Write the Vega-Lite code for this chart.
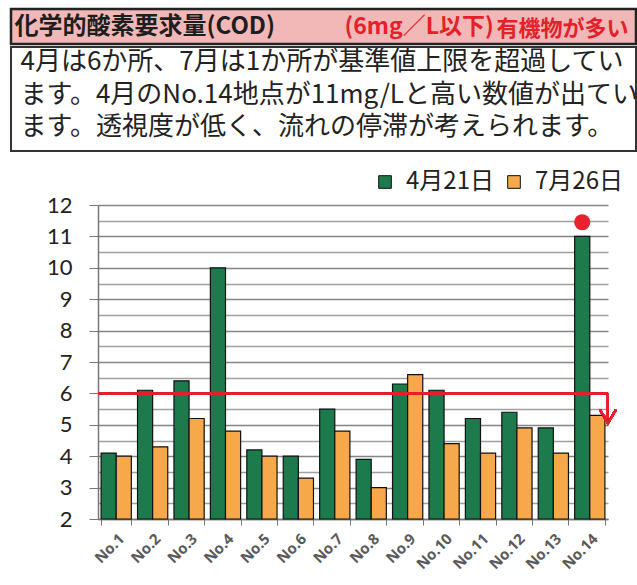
{
  "$schema": "https://vega.github.io/schema/vega-lite/v6.json",
  "background": "white",
  "padding": {"left": 9, "top": 7, "right": 0, "bottom": 0},
  "config": {"view": {"stroke": null}},
  "columns": 1,
  "spacing": 0,
  "resolve": {"legend": {"color": "independent"}, "scale": {"color": "independent"}},
  "concat": [
    {
      "width": 625,
      "height": 35,
      "view": {"fill": "#f2b8b8", "stroke": "#222222", "strokeWidth": 2.5},
      "data": {"values": [
        {"part": "title", "label": "化学的酸素要求量(COD)"},
        {"part": "limit", "label": "(6mg／L以下)"},
        {"part": "note", "label": "有機物が多い"}
      ]},
      "layer": [
        {
          "transform": [{"filter": "datum.part === 'title'"}],
          "mark": {"type": "text", "align": "left", "baseline": "middle", "dx": -309, "font": "Noto Sans CJK JP", "fontSize": 24, "fontWeight": "bold", "color": "#1e1e1e"},
          "encoding": {"text": {"field": "label"}}
        },
        {
          "transform": [{"filter": "datum.part === 'limit'"}],
          "mark": {"type": "text", "align": "left", "baseline": "middle", "dx": 21, "font": "Noto Sans CJK JP", "fontSize": 23, "fontWeight": "bold", "color": "#e3212b"},
          "encoding": {"text": {"field": "label"}}
        },
        {
          "transform": [{"filter": "datum.part === 'note'"}],
          "mark": {"type": "text", "align": "left", "baseline": "middle", "dx": 173, "dy": 2, "font": "Noto Sans CJK JP", "fontSize": 22, "fontWeight": "bold", "color": "#e3212b"},
          "encoding": {"text": {"field": "label"}}
        }
      ]
    },
    {
      "columns": 1,
      "spacing": 18,
      "resolve": {"legend": {"color": "independent"}, "scale": {"color": "independent"}},
      "concat": [
        {
          "width": 625,
          "height": 104,
          "view": {"fill": "white", "stroke": "#333333", "strokeWidth": 2},
          "data": {"values": [
            {"para": "4月は6か所、7月は1か所が基準値上限を超過してい\nます。4月のNo.14地点が11mg/Lと高い数値が出てい\nます。透視度が低く、流れの停滞が考えられます。"}
          ]},
          "mark": {"type": "text", "align": "left", "baseline": "middle", "dx": -303, "dy": -37, "lineBreak": "\n", "lineHeight": 32.5, "font": "Noto Sans CJK JP", "fontSize": 26, "color": "#222222"},
          "encoding": {"text": {"field": "para"}}
        },
        {
          "spacing": 0,
          "resolve": {"legend": {"color": "independent"}, "scale": {"color": "independent"}},
          "hconcat": [
            {
              "width": 1,
              "height": 1,
              "view": {"fill": "white", "stroke": null},
              "data": {"values": [{"t": ""}]},
              "mark": {"type": "text"},
              "encoding": {"text": {"field": "t"}}
            },
            {
              "width": 510,
              "height": 314,
              "data": {"values": [
                {"site": "No.1", "date": "4月21日", "value": 4.1},
                {"site": "No.2", "date": "4月21日", "value": 6.1},
                {"site": "No.3", "date": "4月21日", "value": 6.4},
                {"site": "No.4", "date": "4月21日", "value": 10.0},
                {"site": "No.5", "date": "4月21日", "value": 4.2},
                {"site": "No.6", "date": "4月21日", "value": 4.0},
                {"site": "No.7", "date": "4月21日", "value": 5.5},
                {"site": "No.8", "date": "4月21日", "value": 3.9},
                {"site": "No.9", "date": "4月21日", "value": 6.3},
                {"site": "No.10", "date": "4月21日", "value": 6.1},
                {"site": "No.11", "date": "4月21日", "value": 5.2},
                {"site": "No.12", "date": "4月21日", "value": 5.4},
                {"site": "No.13", "date": "4月21日", "value": 4.9},
                {"site": "No.14", "date": "4月21日", "value": 11.0},
                {"site": "No.1", "date": "7月26日", "value": 4.0},
                {"site": "No.2", "date": "7月26日", "value": 4.3},
                {"site": "No.3", "date": "7月26日", "value": 5.2},
                {"site": "No.4", "date": "7月26日", "value": 4.8},
                {"site": "No.5", "date": "7月26日", "value": 4.0},
                {"site": "No.6", "date": "7月26日", "value": 3.3},
                {"site": "No.7", "date": "7月26日", "value": 4.8},
                {"site": "No.8", "date": "7月26日", "value": 3.0},
                {"site": "No.9", "date": "7月26日", "value": 6.6},
                {"site": "No.10", "date": "7月26日", "value": 4.4},
                {"site": "No.11", "date": "7月26日", "value": 4.1},
                {"site": "No.12", "date": "7月26日", "value": 4.9},
                {"site": "No.13", "date": "7月26日", "value": 4.1},
                {"site": "No.14", "date": "7月26日", "value": 5.3}
              ]},
              "layer": [
                {
                  "mark": {"type": "bar", "stroke": "#111111", "strokeWidth": 1.2},
                  "encoding": {
                    "x": {
                      "field": "site", "type": "nominal", "sort": null,
                      "scale": {"domain": ["No.1","No.2","No.3","No.4","No.5","No.6","No.7","No.8","No.9","No.10","No.11","No.12","No.13","No.14"], "paddingInner": 0.17, "paddingOuter": 0.085},
                      "axis": {"title": null, "labelAngle": -45, "labelFontSize": 15, "labelFont": "Open Sans", "labelFontWeight": "bold", "labelColor": "#5a5a5a", "tickBand": "extent", "tickSize": 6, "tickColor": "#777777", "domainColor": "#777777", "domainWidth": 1.5, "labelPadding": 6, "grid": false}
                    },
                    "xOffset": {"field": "date", "type": "nominal", "sort": null, "scale": {"domain": ["4月21日", "7月26日"]}},
                    "y": {
                      "field": "value", "type": "quantitative",
                      "scale": {"domain": [2, 12], "nice": false, "zero": false},
                      "axis": {"title": null, "values": [2, 2.5, 3, 3.5, 4, 4.5, 5, 5.5, 6, 6.5, 7, 7.5, 8, 8.5, 9, 9.5, 10, 10.5, 11, 11.5, 12], "labelExpr": "datum.value % 1 ? '' : format(datum.value, 'd')", "labelOverlap": false, "labelFontSize": 22, "labelFont": "Lato", "labelColor": "#222222", "labelPadding": 17, "tickSize": 9, "tickColor": "#777777", "tickOpacity": {"condition": {"test": "datum.value % 1", "value": 0}, "value": 1}, "domainColor": "#777777", "domainWidth": 1.5, "grid": true, "gridColor": {"condition": {"test": "datum.value % 1", "value": "#a0a0a0"}, "value": "#858585"}, "gridWidth": 1.5, "gridOpacity": 1, "minExtent": 86}
                    },
                    "y2": {"datum": 2},
                    "color": {
                      "field": "date", "type": "nominal", "sort": null,
                      "scale": {"domain": ["4月21日", "7月26日"], "range": ["#1d7a4d", "#f7a84a"]},
                      "legend": {"title": null, "orient": "none", "legendX": 275, "legendY": -35, "direction": "horizontal", "symbolType": "square", "symbolSize": 160, "symbolStrokeColor": "#111111", "symbolStrokeWidth": 1, "symbolOpacity": 1, "labelFontSize": 24, "labelFont": "Noto Sans CJK JP", "labelColor": "#222222", "labelOffset": 9, "columnPadding": 8, "padding": 0}
                    }
                  }
                },
                {
                  "mark": {"type": "rule", "color": "#e3212b", "strokeWidth": 2},
                  "encoding": {
                    "y": {"datum": 6, "type": "quantitative", "axis": {"title": null, "values": [2, 2.5, 3, 3.5, 4, 4.5, 5, 5.5, 6, 6.5, 7, 7.5, 8, 8.5, 9, 9.5, 10, 10.5, 11, 11.5, 12], "labelExpr": "datum.value % 1 ? '' : format(datum.value, 'd')", "labelOverlap": false, "labelFontSize": 22, "labelFont": "Lato", "labelColor": "#222222", "labelPadding": 17, "tickSize": 9, "tickColor": "#777777", "tickOpacity": {"condition": {"test": "datum.value % 1", "value": 0}, "value": 1}, "domainColor": "#777777", "domainWidth": 1.5, "grid": true, "gridColor": {"condition": {"test": "datum.value % 1", "value": "#a0a0a0"}, "value": "#858585"}, "gridWidth": 1.5, "gridOpacity": 1, "minExtent": 86}}
                  }
                },
                {
                  "mark": {"type": "rule", "color": "#e3212b", "strokeWidth": 2, "xOffset": 3},
                  "encoding": {
                    "x": {"datum": "No.14", "type": "nominal", "bandPosition": 1, "axis": {"title": null, "labelAngle": -45, "labelFontSize": 15, "labelFont": "Open Sans", "labelFontWeight": "bold", "labelColor": "#5a5a5a", "tickBand": "extent", "tickSize": 6, "tickColor": "#777777", "domainColor": "#777777", "domainWidth": 1.5, "labelPadding": 6, "grid": false}},
                    "y": {"datum": 6, "type": "quantitative", "axis": {"title": null, "values": [2, 2.5, 3, 3.5, 4, 4.5, 5, 5.5, 6, 6.5, 7, 7.5, 8, 8.5, 9, 9.5, 10, 10.5, 11, 11.5, 12], "labelExpr": "datum.value % 1 ? '' : format(datum.value, 'd')", "labelOverlap": false, "labelFontSize": 22, "labelFont": "Lato", "labelColor": "#222222", "labelPadding": 17, "tickSize": 9, "tickColor": "#777777", "tickOpacity": {"condition": {"test": "datum.value % 1", "value": 0}, "value": 1}, "domainColor": "#777777", "domainWidth": 1.5, "grid": true, "gridColor": {"condition": {"test": "datum.value % 1", "value": "#a0a0a0"}, "value": "#858585"}, "gridWidth": 1.5, "gridOpacity": 1, "minExtent": 86}},
                    "y2": {"datum": 5.05}
                  }
                },
                {
                  "mark": {"type": "point", "shape": "M-1,-1.7L0,0L1,-1.7", "filled": false, "stroke": "#e3212b", "strokeWidth": 2, "size": 256, "opacity": 1, "xOffset": 3},
                  "encoding": {
                    "x": {"datum": "No.14", "type": "nominal", "bandPosition": 1, "axis": {"title": null, "labelAngle": -45, "labelFontSize": 15, "labelFont": "Open Sans", "labelFontWeight": "bold", "labelColor": "#5a5a5a", "tickBand": "extent", "tickSize": 6, "tickColor": "#777777", "domainColor": "#777777", "domainWidth": 1.5, "labelPadding": 6, "grid": false}},
                    "y": {"datum": 5.05, "type": "quantitative", "axis": {"title": null, "values": [2, 2.5, 3, 3.5, 4, 4.5, 5, 5.5, 6, 6.5, 7, 7.5, 8, 8.5, 9, 9.5, 10, 10.5, 11, 11.5, 12], "labelExpr": "datum.value % 1 ? '' : format(datum.value, 'd')", "labelOverlap": false, "labelFontSize": 22, "labelFont": "Lato", "labelColor": "#222222", "labelPadding": 17, "tickSize": 9, "tickColor": "#777777", "tickOpacity": {"condition": {"test": "datum.value % 1", "value": 0}, "value": 1}, "domainColor": "#777777", "domainWidth": 1.5, "grid": true, "gridColor": {"condition": {"test": "datum.value % 1", "value": "#a0a0a0"}, "value": "#858585"}, "gridWidth": 1.5, "gridOpacity": 1, "minExtent": 86}}
                  }
                },
                {
                  "data": {"values": [{"site": "No.14", "date": "4月21日", "value": 11.45}]},
                  "mark": {"type": "circle", "color": "#e8232d", "size": 260, "opacity": 1},
                  "encoding": {
                    "x": {"field": "site", "type": "nominal", "sort": null, "axis": {"title": null, "labelAngle": -45, "labelFontSize": 15, "labelFont": "Open Sans", "labelFontWeight": "bold", "labelColor": "#5a5a5a", "tickBand": "extent", "tickSize": 6, "tickColor": "#777777", "domainColor": "#777777", "domainWidth": 1.5, "labelPadding": 6, "grid": false}},
                    "xOffset": {"field": "date", "type": "nominal", "sort": null},
                    "y": {"field": "value", "type": "quantitative", "axis": {"title": null, "values": [2, 2.5, 3, 3.5, 4, 4.5, 5, 5.5, 6, 6.5, 7, 7.5, 8, 8.5, 9, 9.5, 10, 10.5, 11, 11.5, 12], "labelExpr": "datum.value % 1 ? '' : format(datum.value, 'd')", "labelOverlap": false, "labelFontSize": 22, "labelFont": "Lato", "labelColor": "#222222", "labelPadding": 17, "tickSize": 9, "tickColor": "#777777", "tickOpacity": {"condition": {"test": "datum.value % 1", "value": 0}, "value": 1}, "domainColor": "#777777", "domainWidth": 1.5, "grid": true, "gridColor": {"condition": {"test": "datum.value % 1", "value": "#a0a0a0"}, "value": "#858585"}, "gridWidth": 1.5, "gridOpacity": 1, "minExtent": 86}}
                  }
                }
              ]
            }
          ]
        }
      ]
    }
  ]
}
